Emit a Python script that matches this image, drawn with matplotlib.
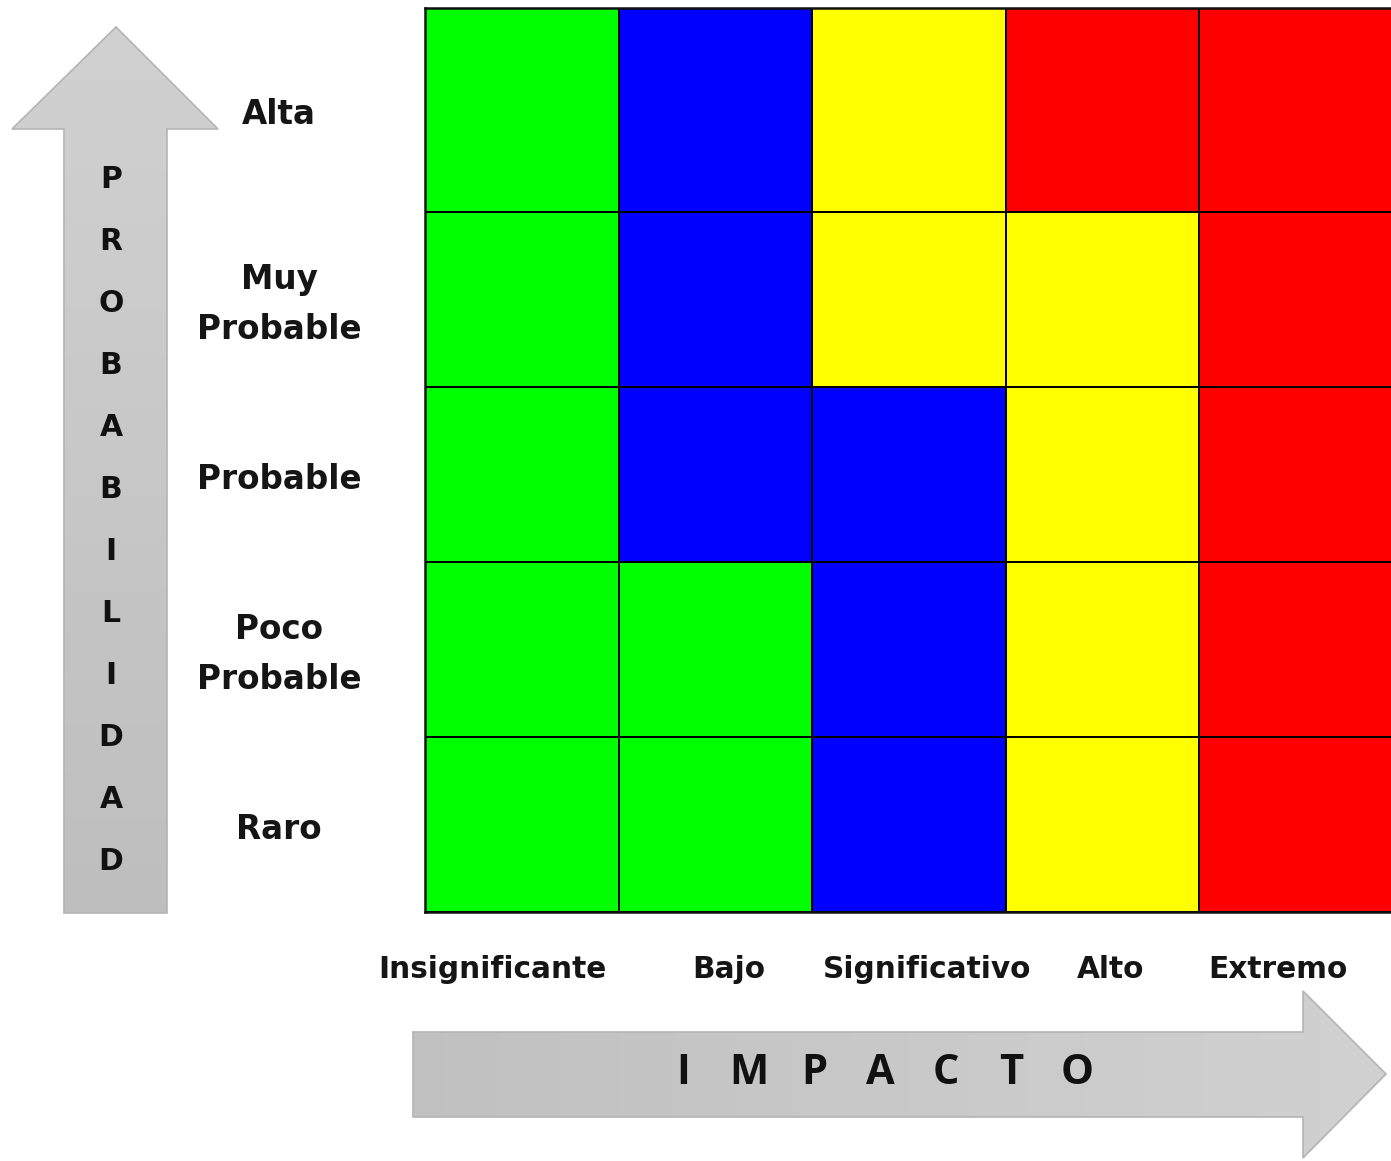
import numpy as np
import matplotlib
matplotlib.use("Agg")
import matplotlib.pyplot as plt
from matplotlib.colors import ListedColormap
from matplotlib.patches import Polygon
from matplotlib.transforms import blended_transform_factory, ScaledTranslation

# ---------------- data ----------------
impact = ["Insignificante", "Bajo", "Significativo", "Alto", "Extremo"]
probability = ["Alta", "Muy\nProbable", "Probable", "Poco\nProbable", "Raro"]  # top -> bottom
# risk level per cell: 0 = green, 1 = blue, 2 = yellow, 3 = red
risk = [
    [0, 1, 2, 3, 3],   # Alta
    [0, 1, 2, 2, 3],   # Muy Probable
    [0, 1, 1, 2, 3],   # Probable
    [0, 0, 1, 2, 3],   # Poco Probable
    [0, 0, 1, 2, 3],   # Raro
]
level_colors = ["#00ff00", "#0000ff", "#ffff00", "#ff0000"]
y_title = "PROBABILIDAD"
x_title = "IMPACTO"

# ---------------- layout ----------------
W, H = 1391, 1161
fig = plt.figure(figsize=(W / 100, H / 100), dpi=100)
ov = fig.add_axes([0, 0, 1, 1])
ov.set_xlim(0, W)
ov.set_ylim(H, 0)
ov.axis("off")

# matrix axes (pixel box of the grid)
gl, gr, gt, gb = 425, 1393, 8, 912
axm = fig.add_axes([gl / W, (H - gb) / H, (gr - gl) / W, (gb - gt) / H])
row_h = [204 / 175, 1, 1, 1, 1]  # top row is taller
y_edges = np.concatenate([[0], np.cumsum(row_h[::-1])])  # bottom -> top
x_edges = np.arange(len(impact) + 1)
Z = np.array(risk)[::-1]
axm.pcolormesh(x_edges, y_edges, Z, cmap=ListedColormap(level_colors),
               vmin=-0.5, vmax=3.5, edgecolors="#000000", linewidth=1.1)
axm.set_xlim(0, len(impact))
axm.set_ylim(0, y_edges[-1])
axm.set_xticks([]); axm.set_yticks([])
for s in axm.spines.values():
    s.set_linewidth(1.8)
    s.set_color("#111111")

# row labels
tr = blended_transform_factory(ov.transData, axm.transData) + \
    ScaledTranslation(0, -0.05, fig.dpi_scale_trans)
centers = (y_edges[:-1] + y_edges[1:]) / 2
for lab, yc in zip(probability[::-1], centers):
    ov.text(279, yc, lab, transform=tr, ha="center", va="center",
            fontsize=23.5, fontweight="bold", family="DejaVu Sans",
            color="#151515", linespacing=1.68)

# column labels
col_label_x = [492, 729, 927, 1111, 1278]
for lab, xc in zip(impact, col_label_x):
    ov.text(xc, 969, lab, ha="center", va="center", fontsize=21.3,
            fontweight="bold", family="DejaVu Sans", color="#151515")


def grad_arrow(verts, vertical):
    poly = Polygon(verts, closed=True, facecolor="none", edgecolor="#b4b4b4",
                   linewidth=1.2, zorder=3)
    ov.add_patch(poly)
    xs = [v[0] for v in verts]; ys = [v[1] for v in verts]
    n = 256
    if vertical:
        g = np.linspace(0.82, 0.745, n)[:, None] * np.ones((1, 2))
    else:
        g = np.ones((2, 1)) * np.linspace(0.755, 0.82, n)[None, :]
    im = ov.imshow(np.dstack([g, g, g]), extent=(min(xs), max(xs), max(ys), min(ys)),
                   aspect="auto", zorder=2, interpolation="bilinear")
    im.set_clip_path(poly)


# vertical arrow
grad_arrow([(116, 27), (218, 129), (167, 129), (167, 913), (64, 913),
            (64, 129), (12, 129)], vertical=True)
# horizontal arrow
grad_arrow([(413, 1032), (1303, 1032), (1303, 991), (1386, 1074),
            (1303, 1158), (1303, 1117), (413, 1117)], vertical=False)
ov.set_xlim(0, W); ov.set_ylim(H, 0)

# vertical title letters
for i, ch in enumerate(y_title):
    ov.text(111, 180 + i * 62.0, ch, ha="center", va="center", fontsize=21.5,
            fontweight="bold", family="DejaVu Sans", color="#111111", zorder=4)

# horizontal title letters
for i, ch in enumerate(x_title):
    ov.text(683 + i * 65.7, 1074, ch, ha="center", va="center", fontsize=30,
            fontweight="bold", family="Open Sans", color="#111111", zorder=4)

fig.savefig("out.png", dpi=100)
